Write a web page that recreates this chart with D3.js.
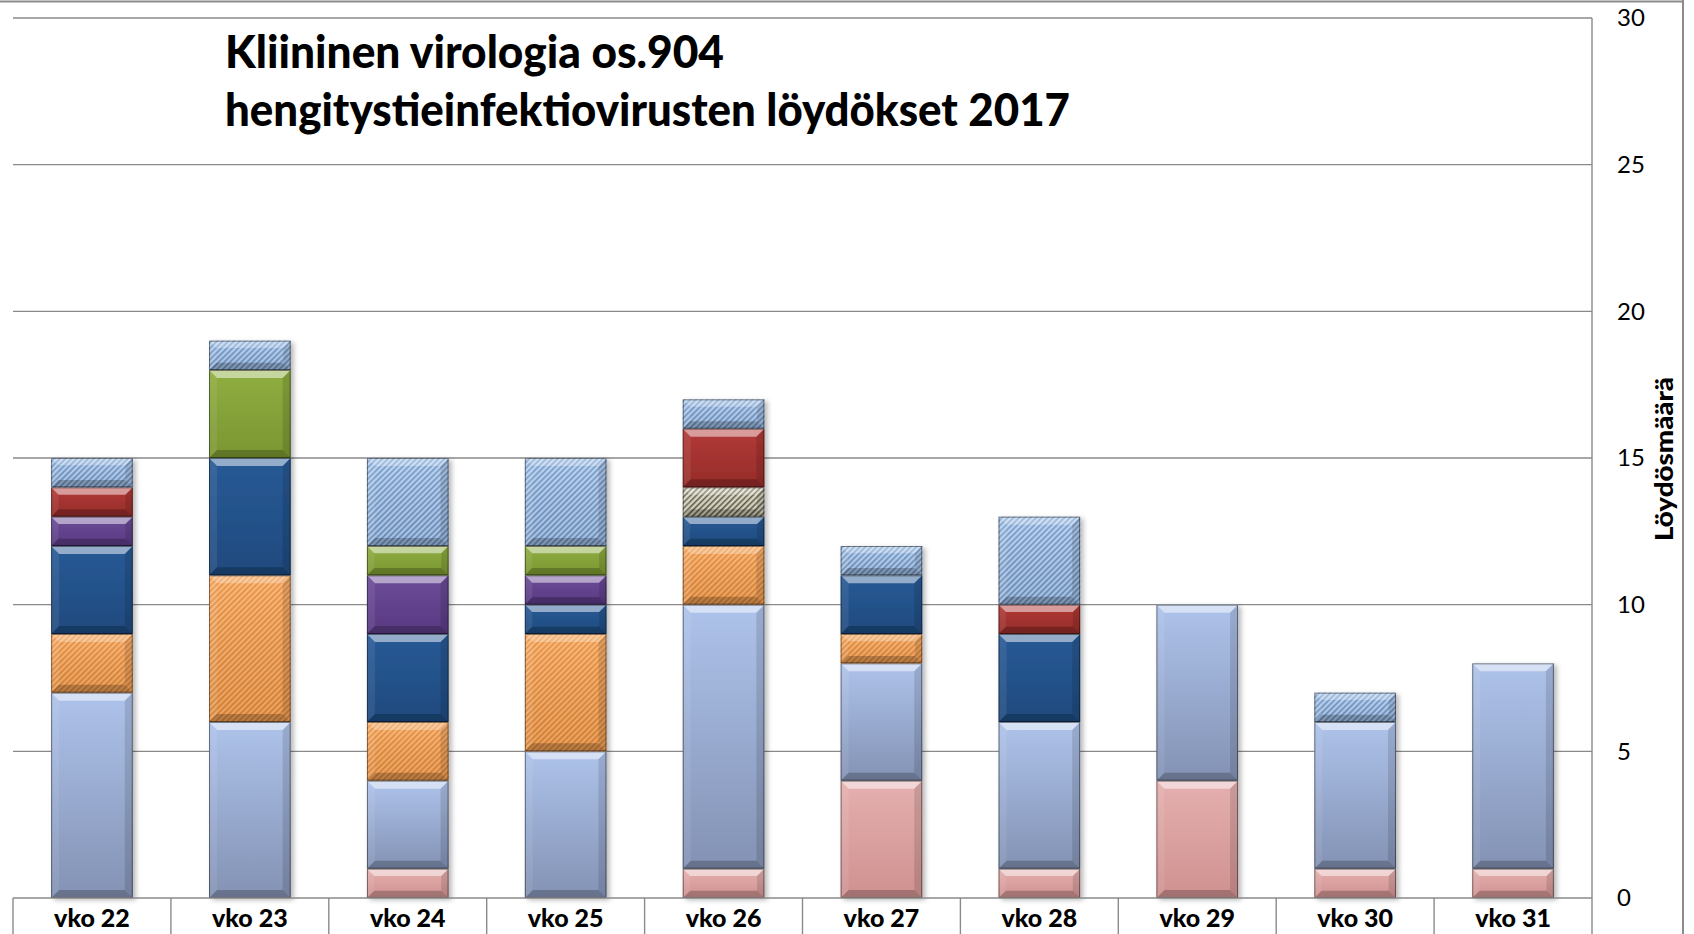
<!DOCTYPE html>
<html>
<head>
<meta charset="utf-8">
<script src="https://cdn.jsdelivr.net/npm/d3@7"></script>
<style>
  html, body { margin: 0; padding: 0; background: #ffffff; }
  svg { display: block; }
</style>
</head>
<body>
<svg id="chart" width="1694" height="934"></svg>
<script>
// Weekly respiratory virus findings, stacked per week
const weeks = ["vko 22", "vko 23", "vko 24", "vko 25", "vko 26", "vko 27", "vko 28", "vko 29", "vko 30", "vko 31"];

// series values, bottom of the stack first
const pinkValues      = [0, 0, 1, 0, 1, 4, 1, 4, 1, 1];
const lightBlueValues = [7, 6, 3, 5, 9, 4, 5, 6, 5, 7];
const orangeValues    = [2, 5, 2, 4, 2, 1, 0, 0, 0, 0];
const darkBlueValues  = [3, 4, 3, 1, 1, 2, 3, 0, 0, 0];
const purpleValues    = [1, 0, 2, 1, 0, 0, 0, 0, 0, 0];
const greenValues     = [0, 3, 1, 1, 0, 0, 0, 0, 0, 0];
const beigeValues     = [0, 0, 0, 0, 1, 0, 0, 0, 0, 0];
const redValues       = [1, 0, 0, 0, 2, 0, 1, 0, 0, 0];
const hatchBlueValues = [1, 1, 3, 3, 1, 1, 3, 0, 1, 0];

const yTicks = [0, 5, 10, 15, 20, 25, 30];

const titleLines = ["Kliininen virologia os.904", "hengitystieinfektiovirusten löydökset 2017"];
const yAxisTitle = "Löydösmäärä";

const seriesValues = {
  pink: pinkValues, lightBlue: lightBlueValues, orange: orangeValues,
  darkBlue: darkBlueValues, purple: purpleValues, green: greenValues,
  beige: beigeValues, red: redValues, hatchBlue: hatchBlueValues
};
const keys = Object.keys(seriesValues);
const rows = weeks.map((w, i) => {
  const r = { week: w };
  keys.forEach(k => { r[k] = seriesValues[k][i]; });
  return r;
});

// fill styles: solid gradients or diagonal stripe patterns
const styles = {
  pink:      { type: "solid", top: "#e4b0af", bottom: "#cf9190" },
  lightBlue: { type: "solid", top: "#aec3eb", bottom: "#8392b4" },
  orange:    { type: "hatch", base: "#f59a4a", stripe: "#fbb877", dark: "#e2842f" },
  darkBlue:  { type: "solid", top: "#285a96", bottom: "#1f4a7e" },
  purple:    { type: "solid", top: "#6d4c99", bottom: "#583981" },
  green:     { type: "solid", top: "#8fae40", bottom: "#7a9632" },
  beige:     { type: "hatch", base: "#b9b39c", stripe: "#ebe7d8", dark: "#55533f" },
  red:       { type: "solid", top: "#b23a37", bottom: "#952c29" },
  hatchBlue: { type: "hatch", base: "#8db3e2", stripe: "#c4d9f3", dark: "#6a90c2" }
};

const W = 1694, H = 934;
const svg = d3.select("#chart");
const defs = svg.append("defs");

svg.append("rect").attr("width", W).attr("height", H).attr("fill", "#ffffff");

const x = d3.scaleBand().domain(weeks).range([13, 1592]).paddingInner(0.483).paddingOuter(0.2415);
const y = d3.scaleLinear().domain([0, 30]).range([898, 18]);

// gradients and patterns
keys.forEach(k => {
  const s = styles[k];
  if (s.type === "solid") {
    const g = defs.append("linearGradient").attr("id", "g-" + k)
      .attr("x1", 0).attr("y1", 0).attr("x2", 0).attr("y2", 1);
    g.append("stop").attr("offset", "0%").attr("stop-color", s.top);
    g.append("stop").attr("offset", "100%").attr("stop-color", s.bottom);
  } else {
    const p = defs.append("pattern").attr("id", "p-" + k)
      .attr("patternUnits", "userSpaceOnUse").attr("width", 4).attr("height", 4)
      .attr("patternTransform", "rotate(45)");
    p.append("rect").attr("width", 4).attr("height", 4).attr("fill", s.base);
    p.append("rect").attr("x", 0).attr("width", 1.4).attr("height", 4).attr("fill", s.stripe);
    p.append("rect").attr("x", 2).attr("width", 1.2).attr("height", 4).attr("fill", s.dark);
  }
});
const shade = defs.append("linearGradient").attr("id", "shade")
  .attr("x1", 0).attr("y1", 0).attr("x2", 0).attr("y2", 1);
shade.append("stop").attr("offset", "0%").attr("stop-color", "#ffffff").attr("stop-opacity", 0.12);
shade.append("stop").attr("offset", "100%").attr("stop-color", "#000000").attr("stop-opacity", 0.08);

const shadow = defs.append("filter").attr("id", "shadow")
  .attr("x", "-20%").attr("y", "-5%").attr("width", "140%").attr("height", "110%");
shadow.append("feDropShadow").attr("dx", 3).attr("dy", 2).attr("stdDeviation", 2.5)
  .attr("flood-color", "#000000").attr("flood-opacity", 0.28);

// grid
const grid = svg.append("g");
grid.selectAll("line.grid").data(yTicks.filter(t => t > 0)).join("line")
  .attr("class", "grid")
  .attr("x1", 13).attr("x2", 1592)
  .attr("y1", d => y(d)).attr("y2", d => y(d))
  .attr("stroke", "#8a8a8a").attr("stroke-width", 1.4);

// outer frame
svg.append("line").attr("x1", 0).attr("x2", 1684).attr("y1", 1.5).attr("y2", 1.5)
  .attr("stroke", "#8c8c8c").attr("stroke-width", 2);
svg.append("line").attr("x1", 1683).attr("x2", 1683).attr("y1", 0).attr("y2", H)
  .attr("stroke", "#8c8c8c").attr("stroke-width", 2);

// stacked bars
const stacked = d3.stack().keys(keys)(rows);
const bars = svg.append("g");
weeks.forEach(w => {
  const colG = bars.append("g").attr("filter", "url(#shadow)");
  stacked.forEach(layer => {
    const d = layer.find(e => e.data.week === w);
    if (!d || d[1] - d[0] <= 0) return;
    const k = layer.key;
    const s = styles[k];
    const x0 = x(w), bw = x.bandwidth();
    const y0 = y(d[1]), h = y(d[0]) - y(d[1]);
    const b = Math.min(8, h / 4, bw / 4);
    const seg = colG.append("g");
    seg.append("rect").attr("x", x0).attr("y", y0).attr("width", bw).attr("height", h)
      .attr("fill", s.type === "solid" ? "url(#g-" + k + ")" : "url(#p-" + k + ")");
    if (s.type === "hatch") {
      seg.append("rect").attr("x", x0).attr("y", y0).attr("width", bw).attr("height", h)
        .attr("fill", "url(#shade)");
    }
    const x1 = x0 + bw, y1 = y0 + h;
    const bevels = [
      { pts: [[x0, y0], [x1, y0], [x1 - b, y0 + b], [x0 + b, y0 + b]], fill: "#ffffff", op: s.type === "solid" ? 0.5 : 0.28 },
      { pts: [[x0, y0], [x0 + b, y0 + b], [x0 + b, y1 - b], [x0, y1]], fill: "#ffffff", op: 0.08 },
      { pts: [[x1, y0], [x1, y1], [x1 - b, y1 - b], [x1 - b, y0 + b]], fill: "#000000", op: 0.12 },
      { pts: [[x0, y1], [x0 + b, y1 - b], [x1 - b, y1 - b], [x1, y1]], fill: "#000000", op: 0.22 }
    ];
    seg.selectAll("polygon").data(bevels).join("polygon")
      .attr("points", e => e.pts.map(p => p.join(",")).join(" "))
      .attr("fill", e => e.fill).attr("fill-opacity", e => e.op);
    seg.append("rect").attr("x", x0 + 0.5).attr("y", y0 + 0.5).attr("width", bw - 1).attr("height", h - 1)
      .attr("fill", "none").attr("stroke", "#000000").attr("stroke-opacity", 0.45).attr("stroke-width", 1);
  });
});

// category axis: baseline, separators and labels
svg.append("line").attr("x1", 13).attr("x2", 1592).attr("y1", y(0)).attr("y2", y(0))
  .attr("stroke", "#8a8a8a").attr("stroke-width", 1.4);
const seps = d3.range(weeks.length + 1).map(i => 13 + i * x.step());
svg.selectAll("line.sep").data(seps).join("line").attr("class", "sep")
  .attr("x1", d => d).attr("x2", d => d).attr("y1", y(0)).attr("y2", H)
  .attr("stroke", "#8a8a8a").attr("stroke-width", 1.4);
svg.append("line").attr("x1", 1592).attr("x2", 1592).attr("y1", y(30)).attr("y2", y(0))
  .attr("stroke", "#8a8a8a").attr("stroke-width", 1.4);

const xAxis = svg.append("g").attr("transform", `translate(0,${y(0)})`)
  .call(d3.axisBottom(x).tickSize(0).tickPadding(0));
xAxis.select(".domain").remove();
xAxis.selectAll("text")
  .attr("y", 29).attr("dy", 0)
  .attr("fill", "#000000")
  .style("font-family", "Lato, 'Noto Sans', sans-serif")
  .style("font-weight", "900")
  .style("font-size", "25px");

// value axis on the right
const yAxis = svg.append("g").attr("transform", "translate(1592,0)")
  .call(d3.axisRight(y).tickValues(yTicks).tickSize(0).tickPadding(25).tickFormat(d3.format("d")));
yAxis.select(".domain").remove();
yAxis.selectAll("text")
  .attr("fill", "#000000")
  .style("font-family", "Lato, 'Noto Sans', sans-serif")
  .style("font-size", "24px");

svg.append("text")
  .attr("transform", "translate(1673,459) rotate(-90)")
  .attr("text-anchor", "middle")
  .attr("textLength", 164).attr("lengthAdjust", "spacingAndGlyphs")
  .style("font-family", "Lato, 'Noto Sans', sans-serif")
  .style("font-weight", "900")
  .style("font-size", "25px")
  .text(yAxisTitle);

// title
const titleWidths = [499, 845];
const titleBase = [68, 126];
svg.selectAll("text.title").data(titleLines).join("text").attr("class", "title")
  .attr("x", 225).attr("y", (d, i) => titleBase[i])
  .attr("textLength", (d, i) => titleWidths[i]).attr("lengthAdjust", "spacingAndGlyphs")
  .style("font-family", "Lato, 'Noto Sans', sans-serif")
  .style("font-weight", "900")
  .style("font-size", "45px")
  .attr("fill", "#000000")
  .text(d => d);
</script>
</body>
</html>
